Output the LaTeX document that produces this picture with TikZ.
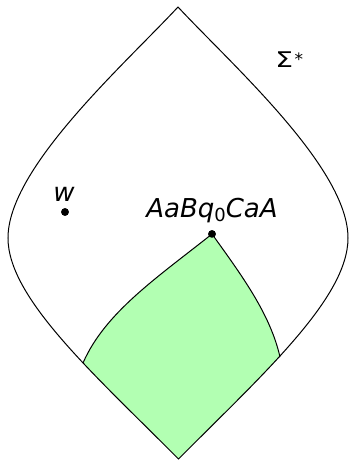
\documentclass[tikz,border=0pt]{standalone}
\usepackage{fontspec}
\newfontfamily\lblfont{DejaVu Sans}
\begin{document}
\begin{tikzpicture}[x=0.5pt,y=-0.5pt,
  dotnode/.style={circle,fill=black,inner sep=0pt,minimum size=3.8pt},
  lbl/.style={inner sep=0pt,font=\lblfont\fontsize{13}{15}\selectfont},
  siglbl/.style={inner sep=0pt,font=\lblfont\fontsize{10.8}{12}\selectfont},
  outline/.style={draw=black,line width=0.5pt},
  region/.style={fill=green!30}]
\useasboundingbox (0,0) rectangle (349,460);
% outline key points
\coordinate (T) at (178,7);
\coordinate (L) at (8,238);
\coordinate (R) at (348,238);
\coordinate (B) at (178.5,459);
\coordinate (BL) at (83,363);
\coordinate (BR) at (280,357);
\node[dotnode] (D) at (212,234) {};
\node[dotnode] (W) at (65,212) {};
% green region clipped by outline
\begin{scope}
  \clip (T) .. controls (123.6,65.4) and (8,168) .. (L)
        .. controls (8,298) and (94,374) .. (B)
        .. controls (263,374) and (348,298) .. (R)
        .. controls (348,168) and (232.4,65.4) .. (T) -- cycle;
  \fill[region] (D.center) .. controls (157.4,277.4) and (105,312.4) .. (BL)
     -- (60,400) -- (178.5,520) -- (310,400) -- (BR)
     .. controls (270.1,313.4) and (241,274.5) .. (D.center) -- cycle;
\end{scope}
\draw[outline] (D.center) .. controls (157.4,277.4) and (105,312.4) .. (BL);
\draw[outline] (D.center) .. controls (241,274.5) and (270.1,313.4) .. (BR);
\draw[outline] (T) .. controls (123.6,65.4) and (8,168) .. (L)
        .. controls (8,298) and (94,374) .. (B)
        .. controls (263,374) and (348,298) .. (R)
        .. controls (348,168) and (232.4,65.4) .. (T) -- cycle;
\node[dotnode] at (D) {};
\node[dotnode] at (W) {};
% labels
\node[lbl,anchor=base] (wl) at (64,201) {\itshape w};
\node[lbl,anchor=base] (dl) at (212,217) {\itshape AaBq\raisebox{-2pt}{\upshape\fontsize{9}{10}\selectfont 0}CaA};
\node[siglbl,anchor=base west] (sig) at (275,68) {\scalebox{1.3}[1]{Σ}\hspace{0.8pt}\raisebox{1.2pt}{\fontsize{8.5}{9}\selectfont *}};
\end{tikzpicture}
\end{document}
